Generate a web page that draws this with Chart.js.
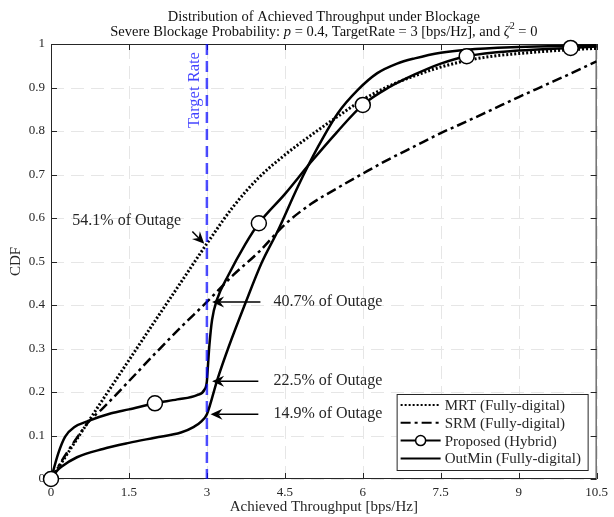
<!DOCTYPE html>
<html>
<head>
<meta charset="utf-8">
<script src="https://cdn.jsdelivr.net/npm/chart.js@4/dist/chart.umd.min.js"></script>
<style>
  html, body { margin: 0; padding: 0; background: #fff; }
  #wrap { width: 614px; height: 517px; }
</style>
</head>
<body>
<div id="wrap"><canvas id="cdfChart" width="614" height="517"></canvas></div>
<script>
// ---- data ----
const xTicks = [0, 1.5, 3, 4.5, 6, 7.5, 9, 10.5];
const yTicks = [0, 0.1, 0.2, 0.3, 0.4, 0.5, 0.6, 0.7, 0.8, 0.9, 1];
const targetRate = 3;

const seriesNames = ['MRT (Fully-digital)', 'SRM (Fully-digital)', 'Proposed (Hybrid)', 'OutMin (Fully-digital)'];

const mrtX = [0, 0.5, 1, 1.5, 2, 2.5, 3, 3.5, 4, 4.5, 5, 5.5, 6, 6.5, 7, 7.5, 8, 8.5, 9, 9.5, 10, 10.5];
const mrtY = [0, 0.092, 0.183, 0.273, 0.363, 0.452, 0.541, 0.625, 0.693, 0.745, 0.79, 0.832, 0.872, 0.903, 0.927, 0.947, 0.962, 0.972, 0.978, 0.983, 0.987, 0.99];

const srmX = [0, 0.25, 0.5, 0.75, 1, 1.5, 2, 2.5, 3, 3.5, 4, 4.5, 5, 5.5, 6, 6.5, 7, 7.5, 8, 8.5, 9, 9.5, 10, 10.5];
const srmY = [0, 0.05, 0.095, 0.135, 0.163, 0.225, 0.288, 0.349, 0.407, 0.468, 0.522, 0.585, 0.632, 0.668, 0.702, 0.735, 0.765, 0.795, 0.822, 0.85, 0.878, 0.905, 0.932, 0.96];

const hybX = [0, 0.14, 0.27, 0.46, 0.71, 1.16, 1.5, 2, 2.43, 2.81, 2.95, 3, 3.02, 3.05, 3.1, 3.19, 3.42, 3.74, 4, 4.5, 5, 5.5, 6, 6.5, 7, 7.5, 8, 9, 10, 10.5];
const hybY = [0, 0.059, 0.097, 0.12, 0.133, 0.151, 0.16, 0.174, 0.183, 0.193, 0.205, 0.225, 0.26, 0.31, 0.366, 0.411, 0.47, 0.54, 0.588, 0.655, 0.728, 0.797, 0.86, 0.9, 0.93, 0.955, 0.972, 0.985, 0.991, 0.994];
const hybMarkX = [0, 2, 4, 6, 8, 10];

const outX = [0, 0.1, 0.2, 0.5, 1, 1.5, 2, 2.5, 2.75, 2.9, 3, 3.2, 3.42, 3.74, 4.05, 4.37, 4.75, 5.14, 5.52, 5.9, 6.28, 6.66, 7, 7.5, 8, 9, 10, 10.5];
const outY = [0, 0.017, 0.028, 0.05, 0.069, 0.083, 0.095, 0.107, 0.12, 0.133, 0.149, 0.228, 0.304, 0.404, 0.496, 0.572, 0.672, 0.764, 0.841, 0.894, 0.933, 0.955, 0.967, 0.98, 0.987, 0.993, 0.996, 0.997];

// outage callouts (percent at the target rate) and where their arrows/text sit
const outagePct = [54.1, 40.7, 22.5, 14.9];
const noteTipX = [2.95, 3.1, 3.1, 3.07];
const noteTailX = [2.72, 4.03, 3.99, 3.99];
const noteTailDy = [0.028, 0, 0, 0];
const noteTextX = [0.41, 4.28, 4.28, 4.28];
const noteTextDy = [0.053, 0, 0, 0];

const serif = '"Liberation Serif", "Times New Roman", serif';
const ink = '#262626';

const pts = (xs, ys) => xs.map((x, i) => ({ x: x, y: ys[i] }));

// arrow with a notched, filled head
function drawArrow(ctx, x0, y0, x1, y1) {
    const ang = Math.atan2(y1 - y0, x1 - x0);
    const len = 12, half = 5.5, notch = 8;
    ctx.beginPath();
    ctx.moveTo(x0, y0);
    ctx.lineTo(x1 - Math.cos(ang) * notch, y1 - Math.sin(ang) * notch);
    ctx.stroke();
    ctx.save();
    ctx.translate(x1, y1);
    ctx.rotate(ang);
    ctx.beginPath();
    ctx.moveTo(0, 0);
    ctx.lineTo(-len, -half);
    ctx.lineTo(-notch, 0);
    ctx.lineTo(-len, half);
    ctx.closePath();
    ctx.fill();
    ctx.restore();
}

// text made of plain / italic / superscript runs, centred on cx
function drawRuns(ctx, runs, cx, y, size) {
    const fontOf = r => (r.it ? 'italic ' : '') + (r.sup ? size * 0.7 : size) + 'px ' + serif;
    let total = 0;
    runs.forEach(r => { ctx.font = fontOf(r); total += ctx.measureText(r.t).width; });
    let x = cx - total / 2;
    ctx.textAlign = 'left';
    runs.forEach(r => {
        ctx.font = fontOf(r);
        ctx.fillText(r.t, x, r.sup ? y - size * 0.38 : y);
        x += ctx.measureText(r.t).width;
    });
}

const decor = {
    id: 'decor',
    beforeDatasetsDraw(chart) {
        const { ctx, chartArea: a, scales: { x, y } } = chart;
        ctx.save();

        // dashed grid
        ctx.strokeStyle = '#e6e6e6';
        ctx.lineWidth = 1;
        ctx.setLineDash([13, 7]);
        ctx.beginPath();
        xTicks.forEach(v => {
            const px = Math.round(x.getPixelForValue(v)) + 0.5;
            ctx.moveTo(px, a.bottom); ctx.lineTo(px, a.top);
        });
        yTicks.forEach(v => {
            const py = Math.round(y.getPixelForValue(v)) + 0.5;
            ctx.moveTo(a.left, py); ctx.lineTo(a.right, py);
        });
        ctx.stroke();
        ctx.setLineDash([]);

        // axes box with inward ticks
        ctx.strokeStyle = ink;
        ctx.strokeRect(a.left + 0.5, a.top + 0.5, a.right - a.left - 1, a.bottom - a.top - 1);
        ctx.beginPath();
        xTicks.forEach(v => {
            const px = Math.round(x.getPixelForValue(v)) + 0.5;
            ctx.moveTo(px, a.bottom); ctx.lineTo(px, a.bottom - 6);
            ctx.moveTo(px, a.top); ctx.lineTo(px, a.top + 6);
        });
        yTicks.forEach(v => {
            const py = Math.round(y.getPixelForValue(v)) + 0.5;
            ctx.moveTo(a.left, py); ctx.lineTo(a.left + 6, py);
            ctx.moveTo(a.right, py); ctx.lineTo(a.right - 6, py);
        });
        ctx.stroke();
        ctx.restore();
    },
    afterDatasetsDraw(chart) {
        const { ctx, chartArea: a, scales: { x, y } } = chart;
        ctx.save();

        // target rate marker
        const tx = x.getPixelForValue(targetRate);
        ctx.strokeStyle = 'rgba(0,0,255,0.7)';
        ctx.lineWidth = 2.5;
        ctx.setLineDash([11, 6]);
        ctx.beginPath();
        ctx.moveTo(tx, a.top);
        ctx.lineTo(tx, a.bottom);
        ctx.stroke();
        ctx.setLineDash([]);
        ctx.save();
        ctx.translate(tx - 8, y.getPixelForValue(0.894));
        ctx.rotate(-Math.PI / 2);
        ctx.fillStyle = 'rgba(0,0,255,0.75)';
        ctx.font = '16.5px ' + serif;
        ctx.textAlign = 'center';
        ctx.textBaseline = 'alphabetic';
        ctx.fillText('Target Rate', 0, 0);
        ctx.restore();

        // outage callouts
        ctx.strokeStyle = '#000';
        ctx.fillStyle = '#000';
        ctx.lineWidth = 1.5;
        ctx.font = '16px ' + serif;
        ctx.textBaseline = 'middle';
        ctx.textAlign = 'left';
        outagePct.forEach((p, i) => {
            const v = p / 100;
            drawArrow(ctx,
                x.getPixelForValue(noteTailX[i]), y.getPixelForValue(v + noteTailDy[i]),
                x.getPixelForValue(noteTipX[i]), y.getPixelForValue(v));
            ctx.fillStyle = ink;
            ctx.fillText(p.toFixed(1) + '% of Outage', x.getPixelForValue(noteTextX[i]), y.getPixelForValue(v + noteTextDy[i]));
            ctx.fillStyle = '#000';
        });

        // legend
        const bw = 191, bh = 76;
        const bx = a.right - 9 - bw, by = a.bottom - 9 - bh;
        ctx.fillStyle = '#fff';
        ctx.fillRect(bx, by, bw, bh);
        ctx.strokeStyle = ink;
        ctx.lineWidth = 1;
        ctx.strokeRect(bx + 0.5, by + 0.5, bw, bh);
        ctx.font = '15px ' + serif;
        chart.data.datasets.forEach(ds => {
            const k = seriesNames.indexOf(ds.label);
            const ly = by + 11 + k * 17.8;
            ctx.strokeStyle = '#000';
            ctx.lineWidth = 2;
            ctx.setLineDash(ds.borderDash || []);
            ctx.beginPath();
            ctx.moveTo(bx + 4, ly);
            ctx.lineTo(bx + 44, ly);
            ctx.stroke();
            ctx.setLineDash([]);
            if (ds.label === seriesNames[2]) {
                ctx.beginPath();
                ctx.arc(bx + 24, ly, 5, 0, Math.PI * 2);
                ctx.fillStyle = '#fff';
                ctx.fill();
                ctx.lineWidth = 1.5;
                ctx.stroke();
            }
            ctx.fillStyle = ink;
            ctx.fillText(ds.label, bx + 48, ly + 1);
        });

        // titles
        ctx.fillStyle = '#111';
        ctx.textBaseline = 'middle';
        const cx = (a.left + a.right) / 2;
        ctx.font = '14.5px ' + serif;
        ctx.textAlign = 'center';
        ctx.fillText('Distribution of Achieved Throughput under Blockage', cx, 17);
        drawRuns(ctx, [
            { t: 'Severe Blockage Probability: ' },
            { t: 'p', it: true },
            { t: ' = 0.4, TargetRate = 3 [bps/Hz], and ' },
            { t: '\u03B6', it: true },
            { t: '2', sup: true },
            { t: ' = 0' }
        ], cx, 32, 14.5);

        ctx.fillStyle = ink;
        ctx.font = '15px ' + serif;
        ctx.textAlign = 'center';
        ctx.fillText('Achieved Throughput [bps/Hz]', cx, 507);
        ctx.save();
        ctx.translate(16, (a.top + a.bottom) / 2);
        ctx.rotate(-Math.PI / 2);
        ctx.fillText('CDF', 0, 0);
        ctx.restore();

        ctx.restore();
    }
};

const baseLine = {
    borderColor: '#000',
    borderWidth: 2.5,
    pointRadius: 0,
    pointHoverRadius: 0,
    cubicInterpolationMode: 'monotone',
    fill: false,
    order: 1
};

new Chart(document.getElementById('cdfChart').getContext('2d'), {
    type: 'line',
    data: {
        datasets: [
            Object.assign({}, baseLine, { label: seriesNames[0], data: pts(mrtX, mrtY), borderWidth: 3, borderDash: [2, 2] }),
            Object.assign({}, baseLine, { label: seriesNames[1], data: pts(srmX, srmY), borderDash: [10, 4, 3, 4] }),
            Object.assign({}, baseLine, {
                label: seriesNames[2],
                data: pts(hybX, hybY),
                order: 0,
                clip: false,
                pointRadius: c => (c.raw && hybMarkX.includes(c.raw.x) ? 7.5 : 0),
                pointBackgroundColor: '#fff',
                pointBorderColor: '#000',
                pointBorderWidth: 1.5
            }),
            Object.assign({}, baseLine, { label: seriesNames[3], data: pts(outX, outY) })
        ]
    },
    options: {
        responsive: false,
        animation: false,
        events: [],
        layout: { padding: { top: 44, right: 13, left: 0, bottom: 0 } },
        plugins: { legend: { display: false }, tooltip: { enabled: false }, title: { display: false } },
        scales: {
            x: {
                type: 'linear',
                min: 0,
                max: 10.5,
                afterBuildTicks: s => { s.ticks = xTicks.map(v => ({ value: v })); },
                afterFit: s => { s.height = 38; },
                border: { display: false },
                grid: { display: false, drawTicks: false },
                ticks: {
                    padding: 6,
                    color: ink,
                    font: { family: serif, size: 13 },
                    maxRotation: 0,
                    callback: v => String(Number(v.toFixed(1)))
                }
            },
            y: {
                type: 'linear',
                min: 0,
                max: 1,
                afterBuildTicks: s => { s.ticks = yTicks.map(v => ({ value: v })); },
                afterFit: s => { s.width = 51; },
                border: { display: false },
                grid: { display: false, drawTicks: false },
                ticks: {
                    padding: 6,
                    color: ink,
                    font: { family: serif, size: 13 },
                    callback: v => String(Number(v.toFixed(1)))
                }
            }
        }
    },
    plugins: [decor]
});
</script>
</body>
</html>
